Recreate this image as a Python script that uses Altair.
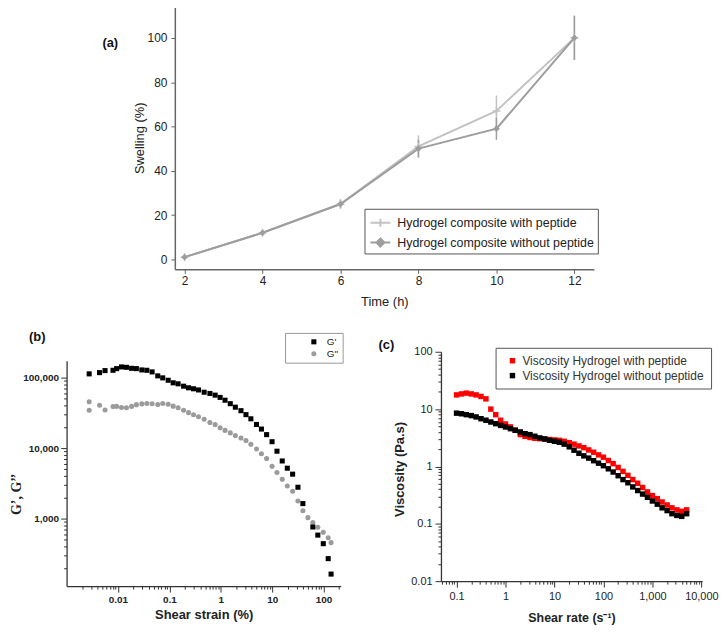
import altair as alt
import pandas as pd

FONT = "Liberation Sans"

# ---------------- (a) swelling ----------------
time_h = [2, 4, 6, 8, 10, 12]
swell_with = [1, 12, 25, 51, 67, 100]
err_with = [0.6, 1.0, 2.0, 5.0, 7.0, 10.0]
swell_without = [1, 12, 25, 50, 59, 100]
err_without = [0.6, 1.0, 2.0, 4.0, 5.0, 10.0]
series_a = ["Hydrogel composite with peptide", "Hydrogel composite without peptide"]
colors_a = ["#c2c2c2", "#9d9d9d"]
yticks_a = [0, 20, 40, 60, 80, 100]

# ---------------- (b) amplitude sweep ----------------
strain_gp = [0.00275, 0.00438, 0.0056, 0.0080, 0.0094, 0.0117, 0.0146, 0.0184, 0.0228, 0.0291,
             0.0364, 0.0461, 0.0594, 0.0742, 0.0948, 0.1185, 0.148, 0.189, 0.236, 0.295,
             0.369, 0.475, 0.615, 0.776, 0.97, 1.21, 1.53, 1.92, 2.47, 3.09,
             3.85, 4.95, 6.18, 7.79, 9.95, 12.4, 15.7, 19.7, 25.0, 31.7,
             39.6, 61.8, 77.3, 98.7, 123, 140]
g_prime = [112800, 117500, 125500, 126800, 133900, 141500, 139700, 135200, 133900, 128300,
           126800, 120300, 105700, 99000, 91600, 84200, 81500, 75400, 71600, 69300,
           66700, 61900, 59500, 56300, 52300, 47700, 42600, 38000, 33900, 29800,
           26000, 21600, 18600, 15500, 12300, 9020, 6560, 5180, 4260, 2780,
           1630, 759, 582, 440, 270, 163]
strain_gpp = [0.00275, 0.00275, 0.00438, 0.0056, 0.0080, 0.0094, 0.0117, 0.0146, 0.0184, 0.0228,
              0.0291, 0.0364, 0.0461, 0.0594, 0.0742, 0.0948, 0.1185, 0.148, 0.189, 0.236,
              0.295, 0.369, 0.475, 0.615, 0.776, 0.97, 1.21, 1.53, 1.92, 2.47,
              3.09, 3.85, 4.95, 6.18, 7.79, 9.95, 12.4, 15.7, 19.7, 25.0,
              31.7, 39.6, 49.5, 61.8, 77.3, 98.7, 123, 140]
g_dprime = [45500, 34300, 40400, 34600, 38700, 39000, 37600, 37200, 39000, 41300,
            42300, 42800, 42600, 41400, 42800, 41700, 39300, 37200, 34300, 31800,
            29600, 27800, 25600, 23000, 21600, 19400, 17800, 16400, 15100, 13900,
            12800, 11300, 9690, 8310, 7110, 5520, 4510, 3600, 2890, 2430,
            1770, 1290, 1030, 879, 752, 641, 535, 455]
series_b = ["G'", "G''"]

# ---------------- (c) flow curve ----------------
shear_rate = [0.1, 0.126, 0.158, 0.2, 0.251, 0.316, 0.398, 0.501, 0.631, 0.794,
              1.0, 1.26, 1.58, 2.0, 2.51, 3.16, 3.98, 5.01, 6.31, 7.94,
              10, 12.6, 15.8, 20, 25.1, 31.6, 39.8, 50.1, 63.1, 79.4,
              100, 126, 158, 200, 251, 316, 398, 501, 631, 794,
              1000, 1260, 1580, 2000, 2510, 3160, 3980, 5010]
visc_with = [17.7, 18.4, 19.0, 18.4, 17.7, 16.6, 15.1, 10.0, 8.0, 6.4,
             5.5, 4.9, 4.3, 3.6, 3.35, 3.2, 3.1, 3.05, 3.0, 2.95,
             2.9, 2.85, 2.75, 2.6, 2.45, 2.28, 2.13, 1.94, 1.77, 1.59,
             1.45, 1.27, 1.12, 0.96, 0.82, 0.70, 0.59, 0.51, 0.43, 0.36,
             0.31, 0.275, 0.24, 0.213, 0.19, 0.175, 0.165, 0.175]
visc_without = [8.5, 8.3, 8.0, 7.7, 7.3, 6.8, 6.4, 5.96, 5.57, 5.2,
                4.88, 4.56, 4.27, 4.0, 3.73, 3.59, 3.36, 3.15, 3.02, 2.86,
                2.75, 2.64, 2.45, 2.2, 1.92, 1.70, 1.53, 1.40, 1.26, 1.14,
                1.03, 0.91, 0.80, 0.69, 0.59, 0.52, 0.44, 0.38, 0.33, 0.29,
                0.25, 0.22, 0.19, 0.17, 0.15, 0.14, 0.135, 0.15]
series_c = ["Viscosity Hydrogel with peptide", "Viscosity Hydrogel without peptide"]

# tick lists
bx_major = [0.01, 0.1, 1, 10, 100]
by_major = [1000, 10000, 100000]
cx_major = [0.1, 1, 10, 100, 1000, 10000]
cy_major = [0.01, 0.1, 1, 10, 100]


def minor_ticks(lo, hi, e0, e1):
    return [m * 10.0 ** e for e in range(e0, e1) for m in range(2, 10) if lo <= m * 10.0 ** e <= hi]


bx_minor = minor_ticks(0.0011, 215, -3, 3)
by_minor = minor_ticks(111, 173000, 2, 6)
cx_minor = minor_ticks(0.048, 10300, -2, 5)
cy_minor = minor_ticks(0.0101, 99, -2, 2)


def anchors(left, right, top, bottom):
    base = alt.Chart(pd.DataFrame({"k": [0]}))
    r1 = base.mark_rule(opacity=0, strokeWidth=0.1).encode(
        x=alt.value(left), x2=alt.value(right), y=alt.value(top))
    r2 = base.mark_rule(opacity=0, strokeWidth=0.1).encode(
        x=alt.value(left), x2=alt.value(right), y=alt.value(bottom))
    return [r1, r2]


def spacer():
    return alt.Chart(pd.DataFrame({"k": [0]})).mark_rule(opacity=0, strokeWidth=0.1).encode(
        x=alt.value(0), x2=alt.value(1), y=alt.value(0)).properties(width=1, height=1)


def panel_label(text, x, y):
    return alt.Chart(pd.DataFrame({"t": [text]})).mark_text(
        font=FONT, fontSize=13, fontWeight="bold", color="#111",
        align="center", baseline="middle").encode(
        x=alt.value(x), y=alt.value(y), text="t:N")


IND = dict(color="independent", shape="independent", stroke="independent", fill="independent")

# ======================= panel (a) =======================
A_LEFT, A_TOP = 176, 8
df_a = pd.DataFrame({
    "time": time_h + time_h,
    "swelling": swell_with + swell_without,
    "err": err_with + err_without,
    "series": [series_a[0]] * len(time_h) + [series_a[1]] * len(time_h),
})
xs_a = alt.Scale(domain=[1.75, 12.5], nice=False, zero=False)
ys_a = alt.Scale(domain=[-4.5, 114.3], nice=False, zero=False)
axis_xa = alt.Axis(values=time_h, title="Time (h)", grid=False,
                   domainColor="#666", domainWidth=1.5, tickColor="#666", tickSize=4,
                   labelFont=FONT, labelFontSize=12, labelColor="#222", labelPadding=2,
                   labelFlush=False, titleFont=FONT, titleFontSize=13, titleFontWeight="normal",
                   titleColor="#222", titleBaseline="middle", titleY=32)
axis_ya = alt.Axis(values=yticks_a, title="Swelling (%)", grid=False,
                   domainColor="#666", domainWidth=1.5, tickColor="#666", tickSize=4,
                   labelFont=FONT, labelFontSize=12, labelColor="#222", labelPadding=4,
                   titleFont=FONT, titleFontSize=13, titleFontWeight="normal",
                   titleColor="#222", titleBaseline="middle", titleX=-36)
xa = alt.X("time:Q", scale=xs_a, axis=axis_xa)
ya = alt.Y("swelling:Q", scale=ys_a, axis=axis_ya)
base_a = alt.Chart(df_a).encode(x=xa, y=ya)

layers_a = []
for s, c in zip(series_a, colors_a):
    sub = base_a.transform_filter(alt.datum.series == s)
    layers_a.append(sub.mark_line(strokeWidth=2, color=c))
    layers_a.append(sub.transform_calculate(
        lo="datum.swelling - datum.err", hi="datum.swelling + datum.err"
    ).mark_rule(strokeWidth=1.5, color=c).encode(
        y=alt.Y("lo:Q", scale=ys_a, axis=axis_ya), y2="hi:Q"))
PLUS = "M-1,0H1M0,-1V1"
layers_a.append(base_a.transform_filter(alt.datum.series == series_a[0]).mark_point(
    shape=PLUS, filled=False, size=64, strokeWidth=1.5, color=colors_a[0], opacity=1))
layers_a.append(base_a.transform_filter(alt.datum.series == series_a[1]).mark_point(
    shape="diamond", filled=True, size=45, color=colors_a[1], opacity=1))

LEG_PLUS = "M-1,0H1M0,-0.4V0.4"
LEG_DIAMOND = "M-1,0H1M0,-0.4L0.4,0L0,0.4L-0.4,0Z"
legend_a = alt.Legend(orient="none", legendX=367 - A_LEFT, legendY=212 - A_TOP, title=None,
                      labelFont=FONT, labelFontSize=12.5, labelColor="#222",
                      labelLimit=400, symbolOpacity=1,
                      strokeColor="#555", fillColor="white", padding=3,
                      symbolOffset=2, symbolSize=400, symbolStrokeWidth=2,
                      rowPadding=1, labelOffset=6)
# size 0 keeps these points invisible; they only feed the legend symbols
leg_a = base_a.mark_point(filled=False, strokeWidth=2, size=0, opacity=1).encode(
    shape=alt.Shape("series:N", scale=alt.Scale(domain=series_a, range=[LEG_PLUS, LEG_DIAMOND]),
                    legend=legend_a),
    stroke=alt.Stroke("series:N", scale=alt.Scale(domain=series_a, range=colors_a), legend=legend_a),
    fill=alt.Fill("series:N", scale=alt.Scale(domain=series_a, range=colors_a), legend=legend_a),
)
panel_a = alt.layer(
    *layers_a, leg_a,
    panel_label("(a)", 111 - A_LEFT, 45 - A_TOP),
    *anchors(9 - A_LEFT, 722 - A_LEFT, 0, 318 - A_TOP),
).properties(width=598 - A_LEFT, height=273 - A_TOP)

# ======================= panel (b) =======================
df_b = pd.DataFrame({
    "strain": strain_gpp + strain_gp,
    "modulus": g_dprime + g_prime,
    "series": [series_b[1]] * len(g_dprime) + [series_b[0]] * len(g_prime),
})
xs_b = alt.Scale(type="log", domain=[0.001, 215], nice=False)
ys_b = alt.Scale(type="log", domain=[110, 173400], nice=False)
B_L, B_T = 67, 361
leg_b = alt.Legend(orient="none", legendX=287 - B_L, legendY=333 - B_T, title=None,
                   labelFont=FONT, labelFontSize=10, labelColor="#222",
                   strokeColor="#999", fillColor="white", padding=4,
                   symbolSize=26, symbolOffset=20, rowPadding=2, labelOffset=8)
ax_bx = alt.Axis(orient="bottom", values=bx_major, format=",", tickSize=6, tickColor="#333",
                 domainColor="#333", domainWidth=1.3, grid=False,
                 labelFont=FONT, labelFontSize=10, labelFontWeight="bold", labelColor="#222",
                 labelPadding=2, labelFlush=False, labelOverlap=False,
                 title="Shear strain (%)", titleFont=FONT, titleFontSize=13,
                 titleFontWeight="bold", titleColor="#222", titleBaseline="middle", titleY=29)
ax_by = alt.Axis(orient="left", values=by_major, format=",", tickSize=6, tickColor="#333",
                 domainColor="#333", domainWidth=1.3, grid=False,
                 labelFont=FONT, labelFontSize=10, labelFontWeight="bold", labelColor="#222",
                 labelPadding=2, labelOverlap=False,
                 title="G\u2019, G\u2019\u2019", titleFont="Liberation Serif", titleFontSize=14,
                 titleFontWeight="bold", titleColor="#222", titleBaseline="middle",
                 titleX=17 - B_L, titleY=495 - B_T)
ax_bx_min = alt.Axis(orient="bottom", values=bx_minor, tickSize=3, tickColor="#333",
                     labels=False, domain=False, title=None, grid=False)
ax_by_min = alt.Axis(orient="left", values=by_minor, tickSize=3, tickColor="#333",
                     labels=False, domain=False, title=None, grid=False)
pts_b = alt.Chart(df_b).mark_point(filled=True, size=26, opacity=1).encode(
    x=alt.X("strain:Q", scale=xs_b, axis=ax_bx),
    y=alt.Y("modulus:Q", scale=ys_b, axis=ax_by),
    shape=alt.Shape("series:N", scale=alt.Scale(domain=series_b, range=["square", "circle"]), legend=leg_b),
    color=alt.Color("series:N", scale=alt.Scale(domain=series_b, range=["#000000", "#9b9b9b"]), legend=leg_b),
)
minor_b = alt.Chart(df_b).mark_point(opacity=0, size=1).encode(
    x=alt.X("strain:Q", scale=xs_b, axis=ax_bx_min),
    y=alt.Y("modulus:Q", scale=ys_b, axis=ax_by_min),
)
panel_b = alt.layer(
    minor_b, pts_b,
    panel_label("(b)", 37.5 - B_L, 337.5 - B_T),
    *anchors(9 - B_L, 362 - B_L, 319 - B_T, 628 - B_T),
).resolve_axis(x="independent", y="independent").properties(width=343 - B_L, height=588 - B_T)

# ======================= panel (c) =======================
df_c = pd.DataFrame({
    "rate": shear_rate + shear_rate,
    "visc": visc_with + visc_without,
    "series": [series_c[0]] * len(shear_rate) + [series_c[1]] * len(shear_rate),
})
xs_c = alt.Scale(type="log", domain=[0.048, 10380], nice=False)
ys_c = alt.Scale(type="log", domain=[0.01, 100], nice=False)
C_L, C_T = 442, 352
leg_c = alt.Legend(orient="none", legendX=497 - C_L, legendY=348 - C_T, title=None,
                   labelFont=FONT, labelFontSize=12, labelColor="#333", labelLimit=400,
                   strokeColor="#555", fillColor="white", padding=7,
                   symbolSize=30, symbolType="square", symbolOffset=4, rowPadding=3, labelOffset=4)
ax_cx = alt.Axis(orient="bottom", values=cx_major, format=",", tickSize=6, tickColor="#333",
                 domainColor="#333", domainWidth=1.3, grid=False,
                 labelFont=FONT, labelFontSize=11, labelColor="#222",
                 labelPadding=3, labelFlush=False, labelOverlap=False,
                 title="Shear rate (s\u207b\u00b9)", titleFont=FONT, titleFontSize=12.5,
                 titleFontWeight="bold", titleColor="#222", titleBaseline="middle", titleY=620 - 583)
ax_cy = alt.Axis(orient="left", values=cy_major, format=",", tickSize=6, tickColor="#333",
                 domainColor="#333", domainWidth=1.3, grid=False,
                 labelFont=FONT, labelFontSize=11, labelColor="#222",
                 labelPadding=3, labelOverlap=False,
                 title="Viscosity (Pa.s)", titleFont=FONT, titleFontSize=13,
                 titleFontWeight="bold", titleColor="#222", titleBaseline="middle",
                 titleX=400 - C_L, titleY=470 - C_T)
ax_cx_min = alt.Axis(orient="bottom", values=cx_minor, tickSize=3, tickColor="#333",
                     labels=False, domain=False, title=None, grid=False)
ax_cy_min = alt.Axis(orient="left", values=cy_minor, tickSize=3, tickColor="#333",
                     labels=False, domain=False, title=None, grid=False)
pts_c = alt.Chart(df_c).mark_point(filled=True, shape="square", size=30, opacity=1).encode(
    x=alt.X("rate:Q", scale=xs_c, axis=ax_cx),
    y=alt.Y("visc:Q", scale=ys_c, axis=ax_cy),
    color=alt.Color("series:N", scale=alt.Scale(domain=series_c, range=["#ff0000", "#000000"]), legend=leg_c),
)
minor_c = alt.Chart(df_c).mark_point(opacity=0, size=1).encode(
    x=alt.X("rate:Q", scale=xs_c, axis=ax_cx_min),
    y=alt.Y("visc:Q", scale=ys_c, axis=ax_cy_min),
)
panel_c = alt.layer(
    minor_c, pts_c,
    panel_label("(c)", 387 - C_L, 345 - C_T),
    *anchors(362 - C_L, 722 - C_L, 319 - C_T, 628 - C_T),
).resolve_axis(x="independent", y="independent").properties(width=705 - C_L, height=583 - C_T)

# layout: each group starts with a 1-px spacer so panels are placed by their own bounds
row1 = alt.hconcat(spacer(), panel_a, spacing=0).resolve_scale(**IND)
vb = alt.vconcat(spacer(), panel_b, spacing=0).resolve_scale(**IND)
vc = alt.vconcat(spacer(), panel_c, spacing=0).resolve_scale(**IND)
row2 = alt.hconcat(spacer(), vb, vc, spacing=0).resolve_scale(**IND)
chart = alt.vconcat(row1, row2, spacing=0).resolve_scale(**IND).properties(
    padding={"left": -3, "top": -5, "right": 0, "bottom": 0}, background="white"
).configure_view(stroke="transparent")

chart.save("out.html", embed_options={"renderer": "svg", "actions": False})
